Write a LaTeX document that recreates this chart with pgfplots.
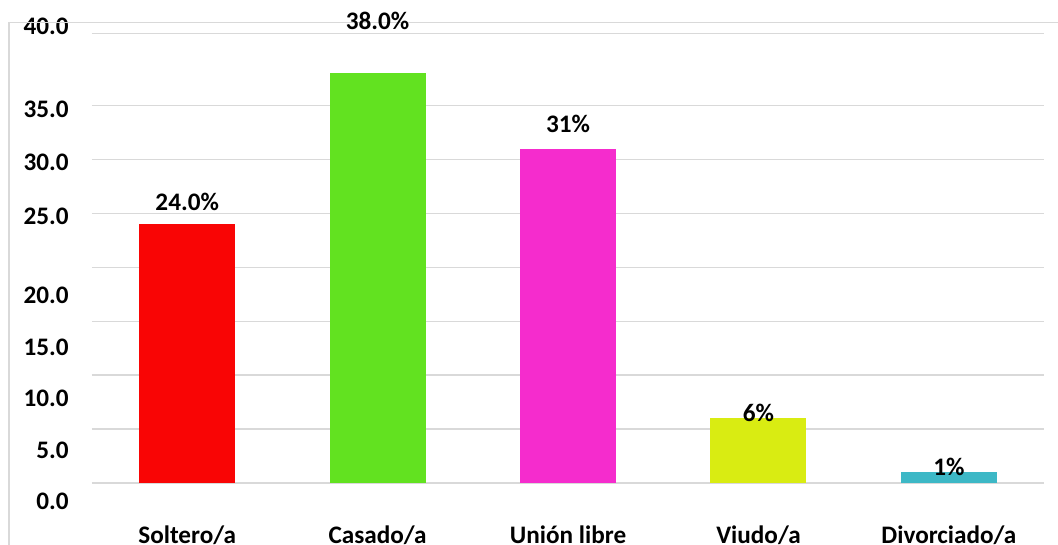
\documentclass[border=0pt]{standalone}
\usepackage{fontspec}
\setmainfont{Carlito}
\usepackage{pgfplots}
\pgfplotsset{compat=1.18}

\definecolor{cSol}{HTML}{F90505}
\definecolor{cCas}{HTML}{62E220}
\definecolor{cUni}{HTML}{F52CCD}
\definecolor{cViu}{HTML}{D9EC12}
\definecolor{cDiv}{HTML}{3DB8C6}
\definecolor{gridgray}{HTML}{D9D9D9}

\newcommand{\lblfont}{\fontsize{12.6}{15}\selectfont\bfseries}

\begin{document}
\begin{tikzpicture}
\begin{axis}[
  scale only axis,
  width=476pt, height=247.95pt,
  xmin=-0.5, xmax=4.5,
  ymin=-3, ymax=43,
  axis line style={draw=none},
  major tick length=0pt,
  xtick={0,1,2,3,4},
  xticklabels={Soltero/a,Casado/a,Unión libre,Viudo/a,Divorciado/a},
  % the original labels sit off their grid lines
  ytick={42.4,34.65,29.7,24.7,17.4,12.6,7.9,3.05,-1.7},
  yticklabels={40.0,35.0,30.0,25.0,20.0,15.0,10.0,5.0,0.0},
  extra y ticks={0,5,10,15,20,25,30,35,41.7},
  extra y tick labels={},
  extra y tick style={grid=major},
  major grid style={draw=gridgray, line width=0.75pt},
  ticklabel style={font=\lblfont, text=black},
  yticklabel style={anchor=east, inner sep=0pt, xshift=-11.5pt},
  xticklabel style={anchor=north, inner sep=0pt, yshift=-5pt},
  ybar, bar width=48pt,
  clip=false,
  every node near coord/.append style={font=\lblfont, text=black, anchor=center},
]
\addplot[fill=cSol, draw=none, bar shift=0pt, nodes near coords={24.0\%},
  nodes near coords style={yshift=11pt}] coordinates {(0,24)};
\addplot[fill=cCas, draw=none, bar shift=0pt, nodes near coords={38.0\%},
  nodes near coords style={yshift=26pt}] coordinates {(1,38)};
\addplot[fill=cUni, draw=none, bar shift=0pt, nodes near coords={31\%},
  nodes near coords style={yshift=12.5pt}] coordinates {(2,31)};
\addplot[fill=cViu, draw=none, bar shift=0pt, nodes near coords={6\%},
  nodes near coords style={yshift=2.5pt}] coordinates {(3,6)};
\addplot[fill=cDiv, draw=none, bar shift=0pt, nodes near coords={1\%},
  nodes near coords style={yshift=2.5pt}] coordinates {(4,1)};
\draw[gridgray, line width=0.75pt] (axis cs:-0.936,-8) -- (axis cs:-0.936,42.71) -- (axis cs:4.8,42.71);
\coordinate (bl) at (axis cs:-0.983,-5.66);
\coordinate (tr) at (axis cs:4.573,44.8);
\end{axis}
\pgfresetboundingbox
\useasboundingbox (bl) rectangle (tr);
\end{tikzpicture}
\end{document}
